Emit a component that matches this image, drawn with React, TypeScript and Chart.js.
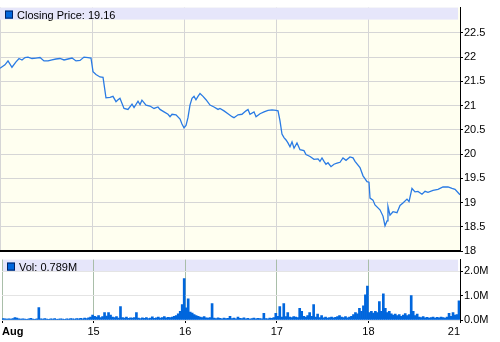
import React, { useEffect, useRef } from 'react';
import { Chart, registerables } from 'chart.js';

Chart.register(...registerables);

// ---------- DATA ----------
const DAY_LABELS = ['Aug', '15', '16', '17', '18', '21'];
const PRICE_TICKS = [18, 18.5, 19, 19.5, 20, 20.5, 21, 21.5, 22, 22.5];
const VOL_TICKS = [0, 1, 2];
const PRICE_LEGEND = 'Closing Price: 19.16';
const VOL_LEGEND = 'Vol: 0.789M';

// time in trading days since Aug 14 open
const priceT = [
  0, 0.054, 0.087, 0.130, 0.174, 0.207, 0.239, 0.272, 0.304, 0.348,
  0.391, 0.435, 0.478, 0.522, 0.565, 0.609, 0.652, 0.696, 0.739, 0.783,
  0.826, 0.870, 0.913, 0.957, 0.989, 1.011, 1.043, 1.087, 1.120, 1.152,
  1.196, 1.228, 1.261, 1.283, 1.304, 1.348, 1.391, 1.435, 1.457, 1.500,
  1.522, 1.543, 1.587, 1.630, 1.674, 1.717, 1.739, 1.783, 1.826, 1.848,
  1.870, 1.913, 1.957, 1.978, 2.000, 2.022, 2.043, 2.065, 2.087, 2.109,
  2.130, 2.152, 2.174, 2.207, 2.239, 2.283, 2.326, 2.370, 2.391, 2.435,
  2.478, 2.522, 2.543, 2.587, 2.630, 2.674, 2.696, 2.717, 2.761, 2.783,
  2.826, 2.870, 2.913, 2.957, 3.000, 3.022, 3.043, 3.065, 3.087, 3.109,
  3.130, 3.152, 3.174, 3.196, 3.228, 3.261, 3.304, 3.326, 3.370, 3.413,
  3.457, 3.478, 3.500, 3.522, 3.543, 3.565, 3.598, 3.630, 3.663, 3.696,
  3.728, 3.761, 3.804, 3.837, 3.859, 3.913, 3.946, 3.989, 4.011, 4.022,
  4.054, 4.076, 4.130, 4.163, 4.185, 4.207, 4.217, 4.239, 4.272, 4.315,
  4.348, 4.380, 4.424, 4.446, 4.478, 4.511, 4.543, 4.587, 4.620, 4.652,
  4.707, 4.761, 4.815, 4.870, 4.913, 4.946, 5.000,
];

const priceV = [
  21.77, 21.84, 21.92, 21.79, 21.90, 21.97, 21.94, 21.99, 22.00, 21.97,
  21.98, 21.99, 21.92, 21.92, 21.94, 21.96, 21.97, 21.94, 21.96, 21.98,
  21.92, 21.93, 22.00, 21.99, 21.98, 21.70, 21.64, 21.59, 21.58, 21.16,
  21.17, 21.19, 21.08, 21.12, 21.15, 20.94, 20.92, 21.03, 20.96, 21.09,
  21.02, 21.11, 21.01, 20.99, 20.94, 20.97, 20.92, 20.87, 20.82, 20.77,
  20.82, 20.81, 20.72, 20.62, 20.54, 20.59, 20.75, 21.01, 21.15, 21.19,
  21.12, 21.19, 21.25, 21.19, 21.12, 21.01, 20.97, 20.92, 20.94, 20.89,
  20.83, 20.77, 20.75, 20.81, 20.82, 20.89, 20.92, 20.82, 20.87, 20.77,
  20.83, 20.87, 20.90, 20.91, 20.90, 20.89, 20.69, 20.41, 20.34, 20.29,
  20.23, 20.15, 20.25, 20.12, 20.23, 20.09, 20.07, 19.99, 19.95, 19.89,
  19.90, 19.85, 19.92, 19.85, 19.79, 19.82, 19.74, 19.79, 19.81, 19.83,
  19.92, 19.87, 19.94, 19.92, 19.85, 19.72, 19.55, 19.43, 19.42, 19.09,
  19.05, 18.95, 18.85, 18.72, 18.52, 18.62, 18.92, 18.74, 18.81, 18.79,
  18.94, 18.99, 19.07, 19.02, 19.29, 19.22, 19.23, 19.17, 19.23, 19.21,
  19.25, 19.27, 19.32, 19.32, 19.29, 19.27, 19.16,
];

// volume (millions), evenly spaced intervals within each trading day
const volAug14 = [
  0.06, 0.05, 0.04, 0.05, 0.04, 0.06, 0.10, 0.08, 0.05, 0.04,
  0.05, 0.04, 0.03, 0.05, 0.07, 0.04, 0.03, 0.05, 0.51, 0.05,
  0.04, 0.06, 0.04, 0.03, 0.05, 0.04, 0.06, 0.03, 0.04, 0.05,
  0.04, 0.03, 0.05, 0.04, 0.06, 0.05, 0.04, 0.06, 0.05, 0.07,
  0.05, 0.08, 0.06, 0.09, 0.12, 0.20,
];
const volAug15 = [
  0.15, 0.12, 0.18, 0.10, 0.14, 0.30, 0.16, 0.30, 0.20, 0.12,
  0.10, 0.14, 0.08, 0.55, 0.10, 0.08, 0.12, 0.07, 0.09, 0.08,
  0.10, 0.30, 0.08, 0.06, 0.09, 0.07, 0.10, 0.06, 0.08, 0.13,
  0.07, 0.09, 0.12, 0.08, 0.10, 0.14, 0.09, 0.11, 0.10, 0.12,
  0.15, 0.18, 0.25, 0.35, 0.63, 1.70,
];
const volAug16 = [
  0.50, 0.87, 0.32, 0.28, 0.22, 0.18, 0.15, 0.12, 0.10, 0.14,
  0.09, 0.08, 0.10, 0.67, 0.08, 0.06, 0.09, 0.07, 0.05, 0.08,
  0.06, 0.07, 0.15, 0.06, 0.08, 0.05, 0.12, 0.07, 0.06, 0.09,
  0.05, 0.07, 0.04, 0.06, 0.08, 0.05, 0.07, 0.06, 0.05, 0.27,
  0.06, 0.05, 0.08, 0.07, 0.10, 0.27,
];
const volAug17 = [
  0.15, 0.55, 0.12, 0.67, 0.14, 0.30, 0.12, 0.10, 0.14, 0.12,
  0.10, 0.48, 0.36, 0.15, 0.12, 0.18, 0.30, 0.15, 0.63, 0.12,
  0.24, 0.10, 0.18, 0.09, 0.12, 0.08, 0.10, 0.12, 0.09, 0.11,
  0.14, 0.18, 0.12, 0.10, 0.14, 0.09, 0.12, 0.15, 0.22, 0.30,
  0.25, 0.48, 0.35, 0.58, 1.03, 1.39,
];
const volAug18 = [
  0.30, 0.36, 0.28, 0.35, 0.30, 0.75, 0.35, 1.07, 0.48, 0.30,
  0.36, 0.25, 0.20, 0.24, 0.18, 0.22, 0.15, 0.20, 0.26, 0.18,
  0.22, 1.00, 0.36, 0.18, 0.24, 0.12, 0.10, 0.14, 0.09, 0.11,
  0.08, 0.10, 0.12, 0.08, 0.11, 0.09, 0.12, 0.10, 0.08, 0.12,
  0.27, 0.15, 0.30, 0.20, 0.22, 0.79,
];
const volumeDays = [volAug14, volAug15, volAug16, volAug17, volAug18];

// ---------- STYLE ----------
const FONT = '"Liberation Sans", Arial, Helvetica, sans-serif';
const CREAM = '#fffff0';
const LAVENDER = '#e6e6fa';
const LINE_BLUE = '#2a7be4';
const BAR_BLUE = '#0066dd';

function drawLegend(ctx: CanvasRenderingContext2D, left: number, right: number, top: number, text: string) {
  ctx.save();
  ctx.fillStyle = LAVENDER;
  ctx.fillRect(left, top, right - left - 2, 12);
  ctx.fillStyle = BAR_BLUE;
  ctx.fillRect(left + 5, top + 3, 8, 8);
  ctx.strokeStyle = '#002266';
  ctx.lineWidth = 1;
  ctx.strokeRect(left + 5.5, top + 3.5, 7, 7);
  ctx.fillStyle = '#000';
  ctx.font = `11px ${FONT}`;
  ctx.textBaseline = 'alphabetic';
  ctx.textAlign = 'left';
  ctx.fillText(text, left + 17, top + 11);
  ctx.restore();
}

export default function App() {
  const priceRef = useRef<HTMLCanvasElement>(null);
  const volRef = useRef<HTMLCanvasElement>(null);

  useEffect(() => {
    const priceData = priceT.map((t, i) => ({ x: t, y: priceV[i] }));
    const volData: { x: number; y: number }[] = [];
    volumeDays.forEach((arr, d) => {
      arr.forEach((v, j) => volData.push({ x: d + (j + 0.5) / arr.length, y: v }));
    });

    const pricePanel = {
      id: 'pricePanel',
      beforeDraw(c: any) {
        const { ctx, chartArea: a } = c;
        ctx.save();
        ctx.fillStyle = CREAM;
        ctx.fillRect(a.left, a.top, a.right - a.left, a.bottom - a.top);
        ctx.restore();
      },
      beforeDatasetsDraw(c: any) {
        const { ctx, chartArea: a } = c;
        drawLegend(ctx, a.left, a.right, a.top, PRICE_LEGEND);
      },
      afterDraw(c: any) {
        const { ctx, chartArea: a } = c;
        ctx.save();
        ctx.fillStyle = '#000';
        ctx.fillRect(a.left, a.bottom - 1, a.right - a.left, 2);
        ctx.restore();
      },
    };

    const volPanel = {
      id: 'volPanel',
      beforeDraw(c: any) {
        const { ctx, chartArea: a } = c;
        ctx.save();
        ctx.fillStyle = '#ffffff';
        ctx.fillRect(a.left, a.top, a.right - a.left, a.bottom - a.top);
        ctx.restore();
        drawLegend(ctx, a.left, a.right, a.top, VOL_LEGEND);
      },
    };

    const priceChart = new Chart(priceRef.current!, {
      type: 'line',
      data: {
        datasets: [
          {
            data: priceData,
            borderColor: LINE_BLUE,
            borderWidth: 1.3,
            pointRadius: 0,
            tension: 0,
            fill: false,
          },
        ],
      },
      options: {
        animation: false,
        responsive: false,
        events: [],
        layout: { padding: { top: 0, left: 0, right: 0, bottom: 11 } },
        plugins: { legend: { display: false }, tooltip: { enabled: false } },
        scales: {
          x: {
            type: 'linear',
            min: 0,
            max: 5,
            afterBuildTicks: (s: any) => {
              s.ticks = DAY_LABELS.map((_, i) => ({ value: i }));
            },
            ticks: { display: false },
            grid: { color: '#d6d6d6', drawTicks: false, offset: false },
            border: { display: false },
            afterFit: (s: any) => {
              s.height = 0;
            },
          },
          y: {
            position: 'right',
            min: 18,
            max: 23.02,
            afterBuildTicks: (s: any) => {
              s.ticks = PRICE_TICKS.map((v) => ({ value: v }));
            },
            ticks: {
              color: '#000',
              font: { family: FONT, size: 11 },
              padding: 1,
              callback: (v: any) => String(v),
            },
            grid: { color: '#d6d6d6', tickColor: '#000', tickLength: 3 },
            border: { display: true, color: '#000', width: 1 },
            afterFit: (s: any) => {
              s.width = 40;
            },
          },
        },
      },
      plugins: [pricePanel],
    } as any);

    const volChart = new Chart(volRef.current!, {
      type: 'bar',
      data: {
        datasets: [
          {
            data: volData,
            backgroundColor: BAR_BLUE,
            borderWidth: 0,
            barThickness: 2,
            grouped: false,
          },
        ],
      },
      options: {
        animation: false,
        responsive: false,
        events: [],
        layout: { padding: 0 },
        plugins: { legend: { display: false }, tooltip: { enabled: false } },
        scales: {
          x: {
            type: 'linear',
            min: 0,
            max: 5,
            offset: false,
            afterBuildTicks: (s: any) => {
              s.ticks = DAY_LABELS.map((_, i) => ({ value: i }));
            },
            ticks: {
              color: '#000',
              align: 'inner',
              maxRotation: 0,
              autoSkip: false,
              padding: 2,
              font: (c: any) => ({ family: FONT, size: 11, weight: c.index === 0 ? 'bold' : 'normal' }),
              callback: (v: any) => DAY_LABELS[v] ?? '',
            },
            grid: { color: '#a9bea9', tickColor: '#000', tickLength: 3, offset: false },
            border: { display: false },
            afterFit: (s: any) => {
              s.height = 22;
            },
          },
          y: {
            position: 'right',
            min: 0,
            max: 2.473,
            afterBuildTicks: (s: any) => {
              s.ticks = VOL_TICKS.map((v) => ({ value: v }));
            },
            ticks: {
              color: '#000',
              font: { family: FONT, size: 11 },
              padding: 1,
              callback: (v: any) => Number(v).toFixed(1) + 'M',
            },
            grid: { color: '#e4e4e4', tickColor: '#000', tickLength: 3 },
            border: { display: true, color: '#000', width: 1 },
            afterFit: (s: any) => {
              s.width = 40;
            },
          },
        },
      },
      plugins: [volPanel],
    } as any);

    return () => {
      priceChart.destroy();
      volChart.destroy();
    };
  }, []);

  return (
    <div style={{ position: 'fixed', left: 0, top: 0, width: 500, height: 342, background: '#fff', overflow: 'hidden' }}>
      <canvas
        ref={volRef}
        width={500}
        height={90}
        style={{ position: 'absolute', left: 0, top: 252, width: 500, height: 90, zIndex: 1 }}
      />
      <canvas
        ref={priceRef}
        width={500}
        height={262}
        style={{ position: 'absolute', left: 0, top: 0, width: 500, height: 262, zIndex: 2 }}
      />
    </div>
  );
}
